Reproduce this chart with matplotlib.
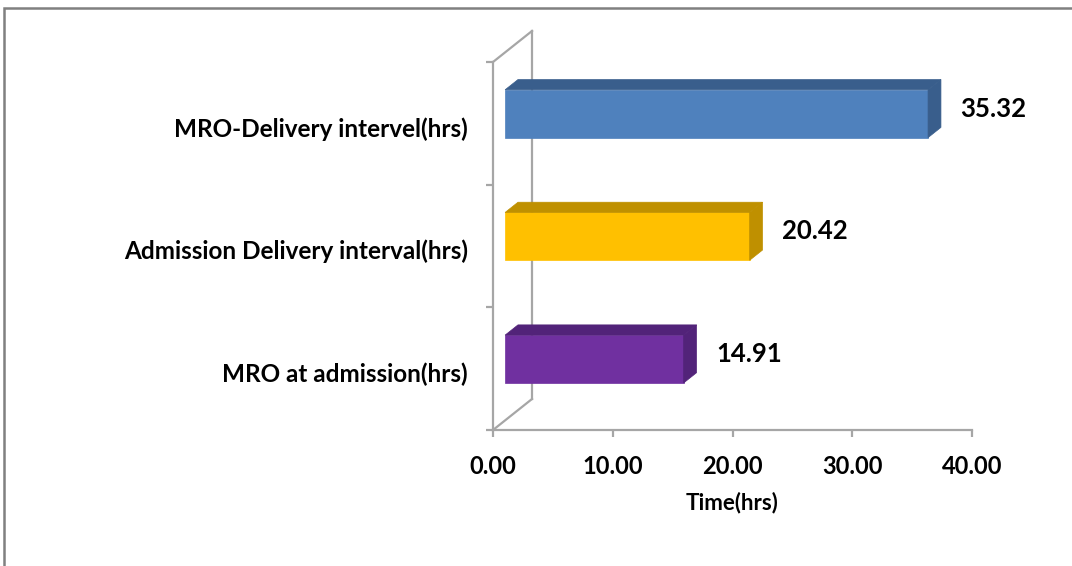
import matplotlib.pyplot as plt
from matplotlib.patches import Polygon, Rectangle

plt.rcParams['font.family'] = ['Lato', 'DejaVu Sans']
plt.rcParams['font.weight'] = 'bold'

categories = ['MRO at admission(hrs)', 'Admission Delivery interval(hrs)',
              'MRO-Delivery intervel(hrs)']
hours = [14.91, 20.42, 35.32]
labels = ['14.91', '20.42', '35.32']
front_colors = ['#7030A0', '#FFC000', '#4F81BD']
shade_colors = ['#522379', '#BF9000', '#395E8C']
x_ticks = [0, 10, 20, 30, 40]

# depth of the fake 3d box, in data units
DX = 3.26
DY = 0.253
F0, F1 = 0.31, 0.64   # bar sits between these depth fractions
BAR_H = 0.39
AXIS_GRAY = '#A6A6A6'

fig = plt.figure(figsize=(10.72, 5.66), dpi=100)
ax = fig.add_axes([493 / 1072, 1 - 430 / 566, 479 / 1072, 368 / 566])
ax.set_xlim(0, 40)
ax.set_ylim(0, 3)

for i, (v, fc, sc) in enumerate(zip(hours, front_colors, shade_colors)):
    y0 = i + 0.5 - BAR_H / 2 + F0 * DY
    y1 = y0 + BAR_H
    x0 = F0 * DX
    x1 = v + F0 * DX
    ddx = (F1 - F0) * DX
    ddy = (F1 - F0) * DY
    ax.barh(y0, v, left=x0, height=BAR_H, align='edge', color=fc,
            edgecolor=fc, linewidth=0.5, zorder=3)
    top = Polygon([(x0, y1), (x1, y1), (x1 + ddx, y1 + ddy), (x0 + ddx, y1 + ddy)],
                  closed=True, facecolor=sc, edgecolor=sc, lw=0.5,
                  zorder=3, clip_on=False)
    side = Polygon([(x1, y0), (x1 + ddx, y0 + ddy), (x1 + ddx, y1 + ddy), (x1, y1)],
                   closed=True, facecolor=sc, edgecolor=sc, lw=0.5,
                   zorder=3, clip_on=False)
    ax.add_patch(top)
    ax.add_patch(side)
    ax.annotate(labels[i], xy=(v + F1 * DX, i + 0.5 + (F0 + F1) / 2 * DY),
                xytext=(14, 0), textcoords='offset points',
                ha='left', va='center', fontsize=18.5, fontweight='bold',
                color='black', annotation_clip=False)

# side wall outline
wall = dict(color=AXIS_GRAY, lw=1.6, clip_on=False, zorder=1)
ax.plot([DX, DX], [DY, 3 + DY], **wall)
ax.plot([0, DX], [3, 3 + DY], **wall)
ax.plot([0, DX], [0, DY], **wall)

for s in ['top', 'right']:
    ax.spines[s].set_visible(False)
for s in ['left', 'bottom']:
    ax.spines[s].set_color(AXIS_GRAY)
    ax.spines[s].set_linewidth(1.6)

ax.set_xticks(x_ticks)
ax.set_xticklabels([f'{t:.2f}' for t in x_ticks], fontsize=17, fontweight='bold')
ax.tick_params(axis='x', direction='out', length=5, width=1.6,
               color=AXIS_GRAY, pad=13)

ax.set_yticks([0, 1, 2, 3])
ax.set_yticklabels([])
ax.set_yticks([i + 0.5 - 0.03 for i in range(3)], minor=True)
ax.set_yticklabels(categories, minor=True, fontsize=17.5, fontweight='bold')
ax.tick_params(axis='y', which='major', direction='out', length=5,
               width=1.6, color=AXIS_GRAY)
ax.tick_params(axis='y', which='minor', length=0, pad=18)

ax.set_xlabel('Time(hrs)', fontsize=16, fontweight='bold', labelpad=10)

# outer frame of the chart area
fig.add_artist(Rectangle((4 / 1072, -0.5), 2, 1.5 - 8 / 566,
                         transform=fig.transFigure, fill=False,
                         edgecolor='#808080', lw=1.8))

fig.savefig('out.png', dpi=100)
